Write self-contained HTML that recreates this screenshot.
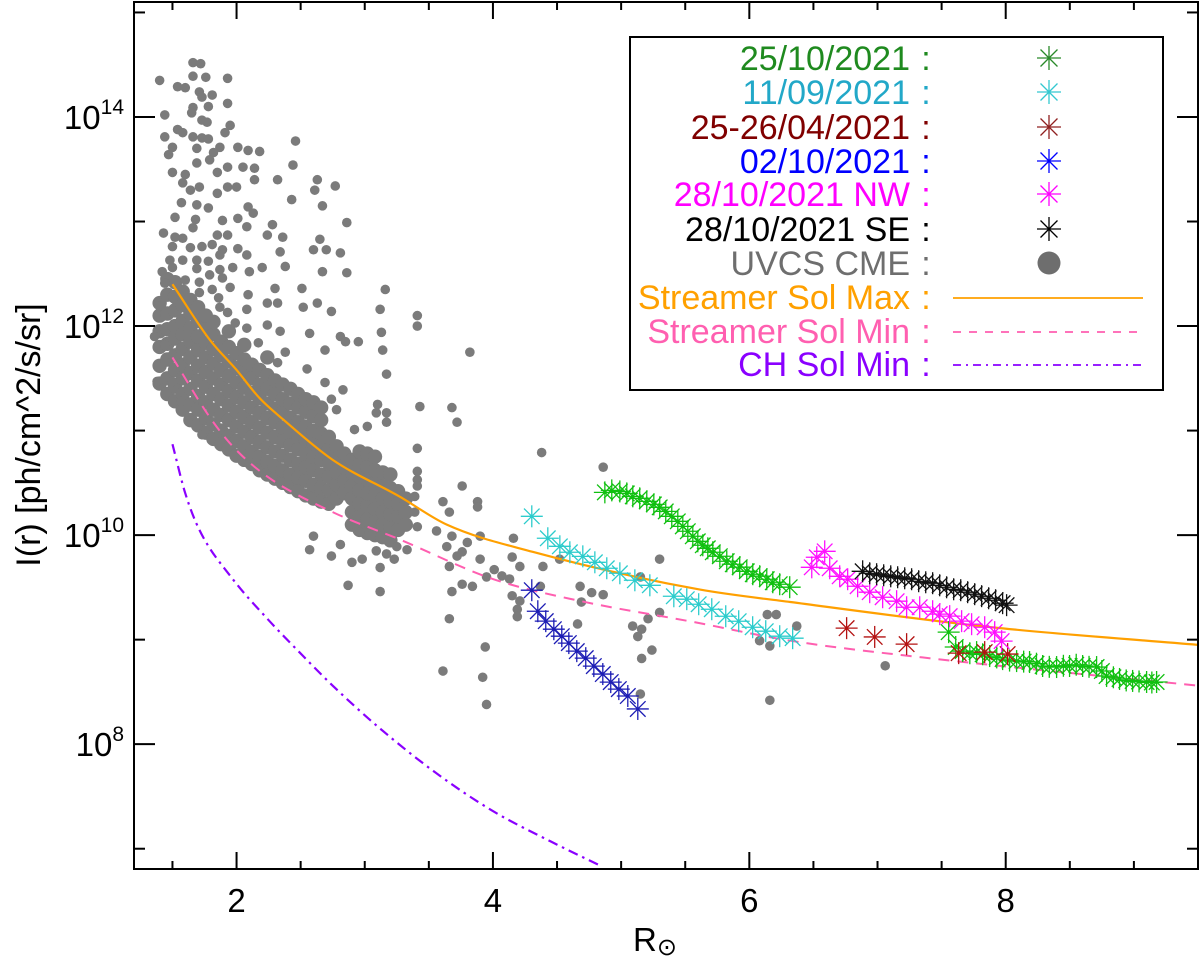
<!DOCTYPE html>
<html><head><meta charset="utf-8"><style>
html,body{margin:0;padding:0;background:#fff}
svg{display:block;font-family:"Liberation Sans",sans-serif}
</style></head><body>
<svg id="chart" width="1200" height="962" viewBox="0 0 1200 962" xmlns="http://www.w3.org/2000/svg">
<g id="plot"></g>
<g id="axes"></g>
<g id="legend"></g>
</svg>
<script>
// ---- data ----
const xTicksMajor = [2, 4, 6, 8];
const yTicksMajor = [8, 10, 12, 14];
const xTickLabels = ["2", "4", "6", "8"];
const yTickLabels = ["8", "10", "12", "14"];

const orangeR = [1.5, 1.79, 2.0, 2.18, 2.36, 2.75, 3.27, 3.64, 4.31, 5.61, 6.32, 7.88, 9.5];
const orangeLog = [12.40, 11.87, 11.58, 11.31, 11.11, 10.72, 10.37, 10.10, 9.84, 9.48, 9.36, 9.12, 8.95];
const pinkR = [1.5, 1.79, 1.97, 2.24, 2.75, 3.27, 4.0, 4.68, 5.56, 6.32, 7.35, 9.5];
const pinkLog = [11.70, 11.13, 10.85, 10.56, 10.22, 9.96, 9.58, 9.37, 9.17, 8.99, 8.83, 8.56];
const purpleR = [1.5, 1.6, 1.71, 1.97, 2.24, 2.49, 2.75, 3.1, 3.55, 4.0, 4.45, 4.85];
const purpleLog = [10.87, 10.40, 10.05, 9.58, 9.20, 8.88, 8.56, 8.17, 7.73, 7.36, 7.07, 6.83];

const cyanR = [4.303,4.428,4.522,4.600,4.701,4.795,4.888,4.990,5.107,5.224,5.411,5.512,5.605,5.707,5.816,5.917,6.026,6.128,6.237,6.338];
const cyanLog = [10.180,9.970,9.893,9.836,9.797,9.740,9.683,9.635,9.568,9.520,9.415,9.387,9.339,9.291,9.224,9.176,9.119,9.081,9.033,9.014];
const blueR = [4.303,4.350,4.412,4.475,4.537,4.592,4.654,4.724,4.787,4.857,4.919,4.982,5.052,5.130];
const blueLog = [9.473,9.272,9.177,9.100,9.033,8.967,8.890,8.823,8.747,8.671,8.594,8.527,8.461,8.337];
const greenR = [4.873,4.927,4.990,5.044,5.091,5.145,5.200,5.255,5.301,5.348,5.395,5.442,5.481,5.520,5.559,5.598,5.637,5.676,5.715,5.770,5.824,5.871,5.925,5.980,6.027,6.081,6.136,6.183,6.237,6.315,
  7.555,7.61,7.664,7.72,7.773,7.82,7.875,7.93,7.976,8.03,8.085,8.14,8.186,8.24,8.288,8.34,8.397,8.45,8.498,8.55,8.600,8.65,8.709,8.75,8.787,8.84,8.888,8.94,8.990,9.04,9.099,9.14,9.177];
const greenLog = [10.409,10.428,10.418,10.399,10.371,10.352,10.323,10.294,10.266,10.227,10.180,10.132,10.084,10.037,9.989,9.941,9.903,9.874,9.836,9.798,9.750,9.721,9.693,9.654,9.626,9.607,9.578,9.549,9.530,9.502,
  9.072,8.93,8.891,8.87,8.881,8.86,8.843,8.83,8.814,8.80,8.795,8.79,8.786,8.77,8.748,8.74,8.738,8.75,8.748,8.76,8.748,8.74,8.738,8.70,8.652,8.64,8.624,8.61,8.605,8.60,8.595,8.59,8.595];
const redR = [6.759, 6.978, 7.227, 7.633, 7.836, 8.015];
const redLog = [9.110, 9.026, 8.957, 8.871, 8.881, 8.862];
const magR = [6.487,6.526,6.588,6.627,6.705,6.767,6.845,6.939,7.040,7.149,7.227,7.329,7.430,7.485,7.563,7.656,7.734,7.836,7.914,7.968];
const magLog = [9.692,9.788,9.845,9.683,9.606,9.578,9.511,9.454,9.406,9.368,9.310,9.310,9.272,9.244,9.225,9.177,9.148,9.119,9.072,8.986];
const blackR = [6.884,6.939,6.993,7.048,7.103,7.157,7.212,7.266,7.321,7.376,7.430,7.485,7.539,7.594,7.649,7.703,7.758,7.812,7.867,7.921,7.976,8.007];
const blackLog = [9.654,9.635,9.626,9.616,9.606,9.597,9.587,9.578,9.559,9.549,9.540,9.520,9.501,9.482,9.473,9.454,9.435,9.416,9.396,9.377,9.349,9.330];

// UVCS CME scatter: sparse points [r, log10 I]
const uvcsSparse = [
[1.40,14.35],[1.66,14.52],[1.72,14.51],[1.66,14.39],[1.76,14.38],[1.93,14.37],[1.54,14.29],[1.60,14.28],[1.71,14.24],[1.73,14.19],[1.81,14.21],[1.78,14.10],[1.93,14.13],[1.66,14.09],[1.65,14.04],[1.44,14.02],[1.73,13.97],[1.77,13.95],[1.95,13.92],[1.91,13.85],[1.54,13.88],[1.58,13.85],[1.44,13.81],[1.50,13.71],[1.66,13.81],[1.73,13.80],[1.78,13.79],[1.69,13.70],[1.87,13.71],[2.01,13.71],[2.09,13.68],[2.18,13.67],[2.46,13.77],[1.47,13.64],[1.82,13.66],[1.69,13.56],[1.79,13.59],[1.85,13.47],[1.93,13.52],[2.05,13.52],[2.14,13.51],[2.44,13.54],[1.50,13.47],[1.60,13.45],[1.58,13.37],[1.64,13.30],[1.71,13.33],[1.85,13.27],[1.93,13.33],[2.00,13.33],[2.14,13.40],[2.32,13.40],[2.63,13.40],[2.77,13.34],[2.61,13.30],[1.57,13.18],[1.69,13.16],[1.78,13.13],[2.09,13.14],[2.13,13.08],[2.43,13.21],[2.67,13.15],[1.52,13.04],[1.68,13.02],[1.89,13.01],[2.01,13.03],[2.08,12.95],[2.28,12.97],[2.86,12.99],[1.43,12.89],[1.52,12.85],[1.58,12.84],[1.66,12.94],[1.85,12.87],[1.93,12.87],[2.24,12.87],[2.36,12.85],[2.65,12.83],[1.50,12.76],[1.64,12.75],[1.73,12.76],[1.81,12.78],[1.89,12.73],[2.01,12.74],[2.34,12.71],[2.60,12.73],[2.70,12.73],[2.81,12.70],[1.48,12.63],[1.58,12.63],[1.69,12.63],[1.78,12.62],[1.87,12.68],[2.08,12.68],[2.38,12.57],[2.67,12.52],[2.86,12.51],[1.42,12.52],[1.50,12.56],[1.69,12.55],[1.79,12.49],[1.87,12.54],[1.97,12.56],[2.10,12.52],[2.20,12.56],[1.44,12.41],[1.60,12.44],[1.71,12.42],[1.89,12.46],[1.81,12.35],[1.95,12.37],[2.30,12.36],[2.51,12.36],[3.16,12.35],[1.40,12.19],[1.71,12.32],[1.86,12.27],[2.09,12.30],[2.24,12.22],[2.32,12.22],[2.52,12.18],[2.63,12.22],[2.74,12.14],[3.12,12.16],[3.41,12.10],[1.87,12.18],[1.93,12.13],[2.08,12.16],[1.99,12.03],[2.08,11.98],[2.24,12.01],[2.34,11.95],[2.57,11.93],[2.81,11.90],[2.85,11.85],[2.95,11.85],[3.13,11.94],[3.41,12.00],[1.36,11.90],[1.44,11.82],[2.17,11.84],[2.69,11.77],[3.14,11.77],[2.32,11.65],[2.38,11.75],[2.55,11.59],[3.17,11.54],[1.38,11.47],[1.50,11.47],[2.69,11.46],[2.83,11.39],[2.74,11.30],[2.78,11.20],[3.10,11.25],[3.09,11.17],[3.17,11.17],[3.43,11.23],[1.57,11.28],[2.92,11.01],[3.02,11.04],[3.41,10.83],[1.73,10.96],
[3.41,10.61],[3.41,10.53],[3.41,10.47],[3.39,10.37],[3.39,10.22],[3.41,10.08],[3.56,10.04],[3.61,10.32],[3.76,10.47],[3.88,10.32],[3.88,10.27],[3.66,10.22],[3.68,9.99],[3.64,9.89],[3.72,9.80],[3.66,9.70],[3.76,9.84],[3.80,9.93],[3.90,9.99],[3.90,9.77],[3.95,9.60],[4.01,9.67],[4.07,9.61],[4.15,9.79],[4.16,9.97],[4.21,9.70],[4.13,9.58],[4.15,9.42],[4.21,9.37],[4.19,9.29],[4.19,9.22],[4.38,10.79],[4.39,9.70],[4.37,9.51],[3.76,9.53],[3.68,9.46],[3.84,9.51],[3.66,9.20],[3.94,8.93],[3.61,8.70],[3.92,8.64],[3.95,8.38],[3.23,9.77],[3.25,9.89],[3.33,9.86],[3.12,9.69],[3.12,9.46],[2.87,9.52],[2.98,9.77],[2.90,9.74],[2.74,9.80],[2.81,9.91],[2.57,9.86],[2.60,9.99],[2.96,10.03],[3.09,9.85],[3.17,9.82],[4.68,9.51],[4.69,9.36],[4.77,9.45],[4.86,9.43],[4.66,9.15],[5.09,9.13],[5.16,9.10],[5.13,9.03],[5.24,8.90],[5.16,8.82],[5.30,9.77],[5.15,8.48],[5.30,9.26],[5.21,9.20],[5.15,9.60],[4.86,10.65],[4.52,9.77],[6.14,9.24],[6.21,9.24],[6.08,8.99],[6.16,8.94],[6.37,9.13],[6.16,8.42],[7.06,8.75],[3.68,11.22],[3.72,11.08],[3.82,11.75],[3.17,11.08]
];
// UVCS CME dense core: columns of radius with intensity values
const coreR = [1.40,1.46,1.52,1.58,1.64,1.70,1.76,1.82,1.88,1.94,2.00,2.06,2.12,2.18,2.24,2.30,2.36,2.42,2.48,2.54,2.60,2.66,2.72,2.78,2.84,2.90,2.96,3.02,3.08,3.14,3.20,3.26,3.32];
const coreLogs = [
[11.45,11.62,11.80,11.95,12.1,12.22],
[11.35,11.5,11.68,11.83,11.97,12.12,12.3,12.45],
[11.28,11.42,11.58,11.72,11.88,12.0,12.15,12.28,12.42],
[11.2,11.35,11.5,11.63,11.78,11.92,12.05,12.2,12.33],
[11.1,11.25,11.4,11.55,11.7,11.85,11.98,12.12,12.25],
[11.05,11.2,11.33,11.48,11.62,11.77,11.9,12.05,12.18],
[10.98,11.12,11.27,11.42,11.56,11.7,11.84,11.98,12.1],
[10.92,11.06,11.2,11.35,11.5,11.64,11.78,11.92,12.04],
[10.87,11.0,11.15,11.3,11.44,11.58,11.72,11.85],
[10.82,10.95,11.1,11.24,11.38,11.52,11.66,11.8,11.95],
[10.76,10.9,11.04,11.18,11.32,11.46,11.6,11.74],
[10.72,10.85,10.99,11.13,11.27,11.41,11.55,11.68,11.82],
[10.68,10.8,10.94,11.08,11.22,11.36,11.5,11.63],
[10.62,10.75,10.89,11.03,11.17,11.31,11.44,11.58],
[10.58,10.7,10.84,10.98,11.12,11.26,11.4,11.53,11.7],
[10.54,10.66,10.8,10.94,11.08,11.21,11.35,11.48],
[10.5,10.62,10.76,10.9,11.03,11.17,11.3,11.44],
[10.46,10.58,10.72,10.86,10.99,11.12,11.26,11.4],
[10.42,10.55,10.68,10.82,10.95,11.08,11.22,11.35],
[10.38,10.52,10.65,10.78,10.91,11.04,11.18,11.3],
[10.35,10.48,10.62,10.75,10.88,11.0,11.14,11.27],
[10.32,10.45,10.58,10.72,10.85,10.97,11.1,11.22],
[10.3,10.43,10.56,10.69,10.82,10.94],
[10.35,10.48,10.6,10.73,10.85],
[10.4,10.52,10.65,10.78],
[10.1,10.22,10.35,10.47,10.6,10.72],
[10.05,10.18,10.3,10.43,10.56,10.68,10.8],
[10.02,10.15,10.28,10.4,10.53,10.65,10.78],
[10.0,10.12,10.25,10.38,10.5,10.62,10.75],
[9.98,10.1,10.22,10.35,10.47,10.6],
[9.95,10.08,10.2,10.32,10.45,10.58],
[10.05,10.18,10.3,10.42],
[10.1,10.22,10.35]
];

const legendLabels = ["25/10/2021", "11/09/2021", "25-26/04/2021", "02/10/2021", "28/10/2021 NW", "28/10/2021 SE", "UVCS CME", "Streamer Sol Max", "Streamer Sol Min", "CH Sol Min"];

// ---- geometry ----
const PL = 134, PR = 1198, PT = 2, PB = 869;
const X0 = 1.2, X1 = 9.5, Y0 = 6.806, Y1 = 15.1;
const sx = r => PL + (r - X0) / (X1 - X0) * (PR - PL);
const sy = l => PB - (l - Y0) / (Y1 - Y0) * (PB - PT);
const NS = "http://www.w3.org/2000/svg";
function mk(tag, attrs, parent) {
  const el = document.createElementNS(NS, tag);
  for (const k in attrs) el.setAttribute(k, attrs[k]);
  parent.appendChild(el);
  return el;
}
const svg = document.getElementById('chart');
const plot = document.getElementById('plot');
const axes = document.getElementById('axes');
const legend = document.getElementById('legend');

const defs = mk('defs', {}, svg);
const cp = mk('clipPath', {id: 'clip'}, defs);
mk('rect', {x: PL, y: PT, width: PR - PL, height: PB - PT}, cp);
plot.setAttribute('clip-path', 'url(#clip)');

// gray scatter
const grayG = mk('g', {fill: '#7b7b7b'}, plot);


coreR.forEach((r, i) => {
  coreLogs[i].forEach(l => {
    const c = mk('circle', {cx: sx(r), cy: sy(l), r: 7.2}, grayG);
    
    
  });
});
uvcsSparse.forEach(p => {
  const c = mk('circle', {cx: sx(p[0]), cy: sy(p[1]), r: 4.8}, grayG);
  
  
});

// curves: monotone cubic (Fritsch-Carlson) through the sample points
function smoothPath(rs, ls) {
  const xs = rs.map(sx), ys = ls.map(sy), n = xs.length;
  const d = [], m = new Array(n);
  for (let i = 0; i < n - 1; i++) d.push((ys[i + 1] - ys[i]) / (xs[i + 1] - xs[i]));
  m[0] = d[0]; m[n - 1] = d[n - 2];
  for (let i = 1; i < n - 1; i++) m[i] = (d[i - 1] * d[i] <= 0) ? 0 : (d[i - 1] + d[i]) / 2;
  for (let i = 0; i < n - 1; i++) {
    if (d[i] === 0) { m[i] = 0; m[i + 1] = 0; continue; }
    const a = m[i] / d[i], b = m[i + 1] / d[i], s = a * a + b * b;
    if (s > 9) { const t = 3 / Math.sqrt(s); m[i] = t * a * d[i]; m[i + 1] = t * b * d[i]; }
  }
  let p = 'M' + xs[0] + ',' + ys[0];
  for (let i = 0; i < n - 1; i++) {
    const h = (xs[i + 1] - xs[i]) / 3;
    p += ' C' + (xs[i] + h) + ',' + (ys[i] + m[i] * h) + ' ' + (xs[i + 1] - h) + ',' + (ys[i + 1] - m[i + 1] * h) + ' ' + xs[i + 1] + ',' + ys[i + 1];
  }
  return p;
}
const cPurple = mk('path', {d: smoothPath(purpleR, purpleLog), fill: 'none', stroke: '#8a00ff', 'stroke-width': 2.2, 'stroke-dasharray': '10,5,2.5,5'}, plot);


const cPink = mk('path', {d: smoothPath(pinkR, pinkLog), fill: 'none', stroke: '#ff5fb0', 'stroke-width': 2, 'stroke-dasharray': '11,8'}, plot);


const cOrange = mk('path', {d: smoothPath(orangeR, orangeLog), fill: 'none', stroke: '#ffa000', 'stroke-width': 2.2}, plot);



// stars
function star(g, x, y, rad, color) {
  const s = mk('g', {stroke: color, 'stroke-width': 1.3}, g);
  for (let a = 0; a < 4; a++) {
    const t = a * Math.PI / 4;
    mk('line', {x1: x - rad * Math.cos(t), y1: y - rad * Math.sin(t), x2: x + rad * Math.cos(t), y2: y + rad * Math.sin(t)}, s);
  }
  mk('circle', {cx: x, cy: y, r: 1.6, fill: color, stroke: 'none'}, s);
  return s;
}
function starSeries(rs, ls, color, name) {
  const g = mk('g', {}, plot);
  
  
  rs.forEach((r, i) => {
    const s = star(g, sx(r), sy(ls[i]), 11, color);
    
    
  });
}
starSeries(cyanR, cyanLog, '#2ccccc', 'series-11-09-2021');
starSeries(blueR, blueLog, '#1c1cb4', 'series-02-10-2021');
starSeries(greenR, greenLog, '#10c010', 'series-25-10-2021');
starSeries(redR, redLog, '#b41212', 'series-25-26-04-2021');
starSeries(magR, magLog, '#ff10ff', 'series-28-10-2021-nw');
starSeries(blackR, blackLog, '#111111', 'series-28-10-2021-se');

// ---- axes ----
const frame = mk('rect', {x: PL, y: PT, width: PR - PL, height: PB - PT, fill: 'none', stroke: '#000', 'stroke-width': 2}, axes);


for (let v = 1.5; v <= 9.5; v += 0.5) {
  const major = xTicksMajor.includes(v);
  const L = major ? 17 : 8;
  const x = sx(v);
  const t1 = mk('line', {x1: x, y1: PB, x2: x, y2: PB - L, stroke: '#000', 'stroke-width': 2}, axes);
  
  
  const t2 = mk('line', {x1: x, y1: PT, x2: x, y2: PT + L, stroke: '#000', 'stroke-width': 2}, axes);
  
  
}
xTicksMajor.forEach((v, i) => {
  const t = mk('text', {x: sx(v), y: 912, 'font-size': 33, 'text-anchor': 'middle', fill: '#000'}, axes);
  t.textContent = xTickLabels[i];
  
  
});
for (let v = 7; v <= 15; v++) {
  const major = v % 2 === 0;
  const L = major ? 21 : 11;
  const y = sy(v);
  const t1 = mk('line', {x1: PL, y1: y, x2: PL + L, y2: y, stroke: '#000', 'stroke-width': 2}, axes);
  
  
  const t2 = mk('line', {x1: PR, y1: y, x2: PR - L, y2: y, stroke: '#000', 'stroke-width': 2}, axes);
  
  
}
yTicksMajor.forEach((v, i) => {
  const t = mk('text', {x: 124, y: sy(v) + 12, 'font-size': 33, 'text-anchor': 'end', fill: '#000'}, axes);
  const base = mk('tspan', {}, t);
  base.textContent = '10';
  const sup = mk('tspan', {'font-size': 21, dy: -15}, t);
  sup.textContent = yTickLabels[i];
  
  
});
const xt = mk('text', {x: 655, y: 951, 'font-size': 33, 'text-anchor': 'middle', fill: '#000'}, axes);
const xtR = mk('tspan', {}, xt);
xtR.textContent = 'R';
const xtS = mk('tspan', {'font-size': 24, dy: 4}, xt);
xtS.textContent = '\u2299';


const yt = mk('text', {x: 0, y: 0, 'font-size': 34, 'text-anchor': 'middle', fill: '#000', transform: 'translate(40,435) rotate(-90)'}, axes);
yt.textContent = 'I(r) [ph/cm^2/s/sr]';



// ---- legend ----
const lbox = mk('rect', {x: 630, y: 37, width: 533, height: 353, fill: '#fff', stroke: '#000', 'stroke-width': 2}, legend);


const textColors = ['#1f8a1f', '#22a8c8', '#800000', '#0000ff', '#ff00ff', '#000000', '#6e6e6e', '#ffa000', '#ff5fb0', '#8a00ff'];
const markColors = ['#2a8a2a', '#33c8d0', '#902020', '#0000ff', '#ff00ff', '#000000', '#6e6e6e', '#ffa000', '#ff5fb0', '#8a00ff'];
const rowY = [58, 92, 127, 161, 194, 229, 263, 297, 331, 364];
legendLabels.forEach((lab, i) => {
  const g = mk('g', {}, legend);
  
  
  const y = rowY[i];
  const t = mk('text', {x: 910, y: y + 12, 'font-size': 34, 'text-anchor': 'end', fill: textColors[i]}, g);
  t.textContent = lab;
  const c = mk('text', {x: 926, y: y + 12, 'font-size': 34, 'text-anchor': 'middle', fill: textColors[i]}, g);
  c.textContent = ':';
  if (i < 6) {
    star(g, 1049, y, 12, markColors[i]);
  } else if (i === 6) {
    mk('circle', {cx: 1049, cy: y, r: 11.5, fill: markColors[i]}, g);
  } else {
    const dash = i === 7 ? '' : (i === 8 ? '8,8' : '8,5,2,5');
    const ln = mk('line', {x1: 953, y1: y + 1, x2: 1143, y2: y + 1, stroke: markColors[i], 'stroke-width': 1.8}, g);
    if (dash) ln.setAttribute('stroke-dasharray', dash);
  }
});
</script>
</body></html>
